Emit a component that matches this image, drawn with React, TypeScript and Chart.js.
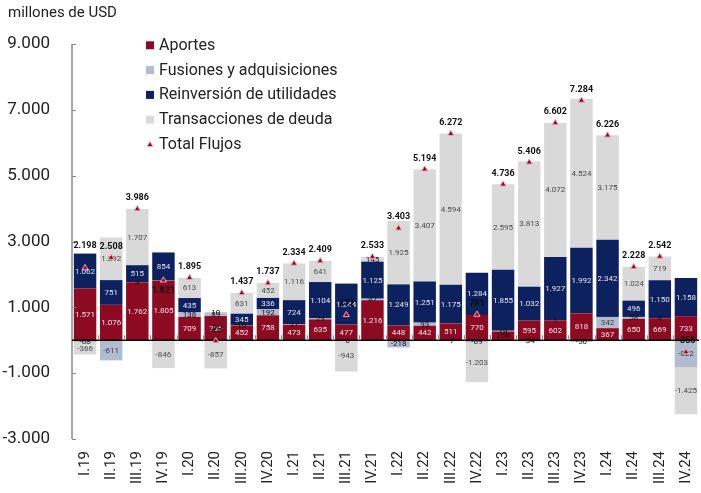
import React, { useEffect, useRef } from "react";
import { Chart, registerables } from "chart.js";

Chart.register(...registerables);

const categories = [
  "I.19", "II.19", "III.19", "IV.19",
  "I.20", "II.20", "III.20", "IV.20",
  "I.21", "II.21", "III.21", "IV.21",
  "I.22", "II.22", "III.22", "IV.22",
  "I.23", "II.23", "III.23", "IV.23",
  "I.24", "II.24", "III.24", "IV.24",
];

const aportes = [1571, 1076, 1762, 1805, 709, 735, 452, 758, 473, 635, 477, 1216, 448, 442, 511, 770, 268, 595, 602, 818, 367, 650, 669, 733];
const fusiones = [-68, -611, 3, 8, 138, 89, 10, 192, 21, 29, -6, 47, -218, 93, -7, -69, 19, -34, 1, -50, 342, 58, 4, -822];
const reinversion = [1062, 751, 515, 854, 435, 10, 345, 336, 724, 1104, 1244, 1125, 1249, 1251, 1175, 1284, 1855, 1032, 1927, 1992, 2342, 496, 1150, 1158];
const deuda = [-366, 1292, 1707, -846, 613, -857, 631, 452, 1116, 641, -943, 145, 1925, 3407, 4594, -1203, 2595, 3813, 4072, 4524, 3175, 1024, 719, -1425];
const totalFlujos = [2198, 2508, 3986, 1821, 1895, -23, 1437, 1737, 2334, 2409, 772, 2533, 3403, 5194, 6272, 781, 4736, 5406, 6602, 7284, 6226, 2228, 2542, -356];

const yTicks = [-3000, -1000, 1000, 3000, 5000, 7000, 9000];
const yMin = -3000;
const yMax = 9000;
const unitTitle = "millones de USD";

// label placement tweaks for total labels (pixel offset from the marker)
const DEFAULT_TOTAL_OFFSET = -11;
const TOTAL_OFFSET_OVERRIDES: Record<number, number> = { 0: -22, 3: 10 };

const COLORS = {
  aportes: "#8C0A22",
  fusiones: "#B1BCD0",
  reinversion: "#0D215E",
  deuda: "#D9D9D9",
  triFill: "#8C0A22",
  triBorder: "#F3A6B6",
};

const LABEL_COLORS = ["#F4E4E7", "#3A3A3A", "#E6E9F1", "#4A4A4A"];

const fmt = (v: number) => {
  const s = Math.abs(v).toString().replace(/\B(?=(\d{3})+(?!\d))/g, ".");
  return (v < 0 ? "-" : "") + s;
};

const FONT = "Roboto";

const decorPlugin = {
  id: "decor",
  beforeDatasetDraw(chart: any, args: any) {
    if (args.meta.type !== "line") return;
    const ctx = chart.ctx;
    const area = chart.chartArea;
    const y = chart.scales.y;
    const x = chart.scales.x;
    const zeroY = y.getPixelForValue(0);
    ctx.save();
    ctx.strokeStyle = "#8A8A8A";
    ctx.lineWidth = 1.5;
    ctx.beginPath();
    ctx.moveTo(area.left, y.getPixelForValue(yMax));
    ctx.lineTo(area.left, y.getPixelForValue(yMin));
    ctx.stroke();
    ctx.lineWidth = 1;
    yTicks.forEach((t) => {
      const py = Math.round(y.getPixelForValue(t)) + 0.5;
      ctx.beginPath();
      ctx.moveTo(area.left, py);
      ctx.lineTo(area.left + 4, py);
      ctx.stroke();
    });
    ctx.strokeStyle = "#000";
    ctx.lineWidth = 1.5;
    ctx.beginPath();
    ctx.moveTo(area.left, zeroY);
    ctx.lineTo(area.right, zeroY);
    ctx.stroke();
    ctx.strokeStyle = "#8A8A8A";
    ctx.lineWidth = 1;
    for (let i = 1; i < categories.length; i++) {
      const bx = Math.round((x.getPixelForValue(i - 1) + x.getPixelForValue(i)) / 2) + 0.5;
      ctx.beginPath();
      ctx.moveTo(bx, zeroY);
      ctx.lineTo(bx, zeroY - 5);
      ctx.stroke();
    }
    ctx.font = `8px ${FONT}`;
    ctx.textAlign = "center";
    ctx.textBaseline = "middle";
    for (let d = 1; d <= 4; d++) {
      const meta = chart.getDatasetMeta(d);
      const vals = chart.data.datasets[d].data as number[];
      meta.data.forEach((el: any, i: number) => {
        const v = vals[i];
        const h = Math.abs(el.base - el.y);
        const cy = (el.base + el.y) / 2;
        ctx.fillStyle = h < 9 ? "#111" : LABEL_COLORS[d - 1];
        ctx.fillText(fmt(v), el.x, cy + 0.5);
      });
    }
    ctx.restore();
  },
  afterDatasetsDraw(chart: any) {
    const ctx = chart.ctx;
    const meta = chart.getDatasetMeta(0);
    ctx.save();
    ctx.font = `bold 9px ${FONT}`;
    ctx.textAlign = "center";
    ctx.textBaseline = "middle";
    ctx.fillStyle = "#111";
    meta.data.forEach((pt: any, i: number) => {
      const off = TOTAL_OFFSET_OVERRIDES[i] ?? DEFAULT_TOTAL_OFFSET;
      ctx.fillText(fmt(totalFlujos[i]), pt.x, pt.y + off);
    });
    ctx.restore();
  },
  afterDraw(chart: any) {
    const ctx = chart.ctx;
    ctx.save();
    ctx.font = `15px ${FONT}`;
    ctx.fillStyle = "#222";
    ctx.textAlign = "left";
    ctx.textBaseline = "middle";
    ctx.fillText(unitTitle, 8, 13);
    const items = [
      { label: chart.data.datasets[1].label, color: COLORS.aportes, tri: false },
      { label: chart.data.datasets[2].label, color: COLORS.fusiones, tri: false },
      { label: chart.data.datasets[3].label, color: COLORS.reinversion, tri: false },
      { label: chart.data.datasets[4].label, color: COLORS.deuda, tri: false },
      { label: chart.data.datasets[0].label, color: COLORS.triFill, tri: true },
    ];
    ctx.font = `16px ${FONT}`;
    items.forEach((it, k) => {
      const cy = 45.3 + k * 24.8;
      if (it.tri) {
        ctx.fillStyle = COLORS.triFill;
        ctx.strokeStyle = COLORS.triBorder;
        ctx.lineWidth = 1;
        ctx.beginPath();
        ctx.moveTo(150, cy - 3);
        ctx.lineTo(153, cy + 2);
        ctx.lineTo(147, cy + 2);
        ctx.closePath();
        ctx.fill();
        ctx.stroke();
      } else {
        ctx.fillStyle = it.color;
        ctx.fillRect(146, cy - 4, 8, 8);
      }
      ctx.fillStyle = "#222";
      ctx.fillText(it.label, 159, cy + 0.5);
    });
    ctx.restore();
  },
};

export default function App() {
  const ref = useRef<HTMLCanvasElement>(null);
  useEffect(() => {
    const canvas = ref.current;
    if (!canvas) return;
    Chart.defaults.font.family = FONT;
    const chart = new Chart(canvas, {
      type: "bar",
      data: {
        labels: categories,
        datasets: [
          {
            type: "line",
            label: "Total Flujos",
            data: totalFlujos,
            showLine: false,
            order: -1,
            stack: "total",
            pointStyle: "triangle",
            pointRadius: 3.5,
            pointBackgroundColor: COLORS.triFill,
            pointBorderColor: COLORS.triBorder,
            pointBorderWidth: 1,
          } as any,
          { label: "Aportes", data: aportes, backgroundColor: COLORS.aportes, stack: "flows" },
          { label: "Fusiones y adquisiciones", data: fusiones, backgroundColor: COLORS.fusiones, stack: "flows" },
          { label: "Reinversión de utilidades", data: reinversion, backgroundColor: COLORS.reinversion, stack: "flows" },
          { label: "Transacciones de deuda", data: deuda, backgroundColor: COLORS.deuda, stack: "flows" },
        ],
      },
      options: {
        responsive: false,
        animation: false,
        events: [],
        layout: { padding: { top: 44, left: 0, right: 0, bottom: 0 } },
        datasets: { bar: { barPercentage: 0.86, categoryPercentage: 1 } },
        plugins: {
          legend: { display: false },
          tooltip: { enabled: false },
          title: { display: false },
        },
        scales: {
          x: {
            stacked: true,
            offset: true,
            grid: { display: false, drawTicks: false },
            border: { display: false },
            ticks: {
              autoSkip: false,
              minRotation: 90,
              maxRotation: 90,
              padding: 12,
              color: "#222",
              font: { size: 15, family: FONT },
            },
            afterFit: (s: any) => {
              s.height = 54;
              s.paddingLeft = 0;
              s.paddingRight = 0;
            },
          },
          y: {
            stacked: true,
            min: yMin,
            max: yMax,
            grid: { display: false, drawTicks: false },
            border: { display: false },
            afterBuildTicks: (s: any) => {
              s.ticks = yTicks.map((v) => ({ value: v }));
            },
            ticks: {
              padding: 22,
              color: "#222",
              font: { size: 17, family: FONT },
              callback: (v: any) => fmt(Number(v)),
            },
            afterFit: (s: any) => {
              s.width = 72;
              s.paddingTop = 0;
              s.paddingBottom = 0;
            },
          },
        },
      },
      plugins: [decorPlugin],
    });
    return () => chart.destroy();
  }, []);

  return (
    <div
      style={{
        position: "fixed",
        left: 0,
        top: 0,
        width: 701,
        height: 493,
        overflow: "hidden",
        background: "#fff",
      }}
    >
      <canvas ref={ref} width={704} height={493} style={{ width: 704, height: 493, display: "block" }} />
    </div>
  );
}
